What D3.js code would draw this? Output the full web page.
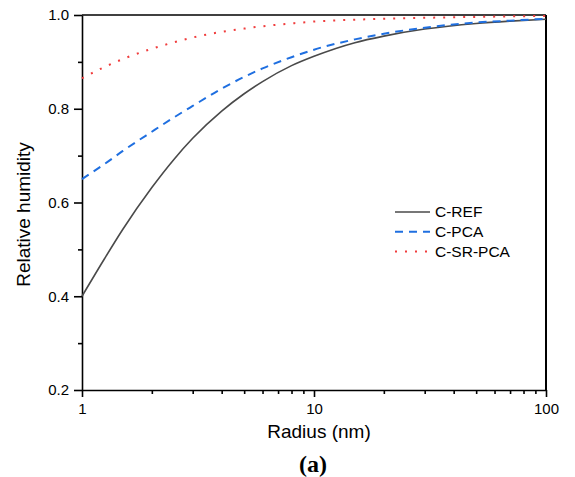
<!DOCTYPE html>
<html>
<head>
<meta charset="utf-8">
<script src="https://cdn.jsdelivr.net/npm/d3@7"></script>
<style>
  body { margin: 0; background: #fff; }
  text { font-family: "Liberation Sans", Arial, sans-serif; fill: #000; }
</style>
</head>
<body>
<div id="chart"></div>
<script>
// values
const radius = [1, 1.25, 1.5, 2, 2.5, 3, 4, 5, 6, 8, 10, 15, 20, 30, 50, 70, 100];
const cRef   = [0.400, 0.480, 0.543, 0.632, 0.693, 0.737, 0.795, 0.832, 0.858, 0.892, 0.912, 0.941, 0.955, 0.970, 0.982, 0.987, 0.991];
const cPca   = [0.650, 0.682, 0.710, 0.751, 0.782, 0.806, 0.843, 0.868, 0.886, 0.910, 0.926, 0.948, 0.960, 0.973, 0.984, 0.988, 0.992];
const cSrPca = [0.865, 0.889, 0.906, 0.928, 0.942, 0.952, 0.964, 0.971, 0.976, 0.982, 0.986, 0.990, 0.992, 0.994, 0.996, 0.997, 0.998];

const seriesNames = ['C-REF', 'C-PCA', 'C-SR-PCA'];
const yMajor = [0.2, 0.4, 0.6, 0.8, 1.0];
const yMinor = [0.3, 0.5, 0.7, 0.9];
const xMajor = [1, 10, 100];
const xMinor = [2, 3, 4, 5, 6, 7, 8, 9, 20, 30, 40, 50, 60, 70, 80, 90];

const margin = { top: 15, right: 29, bottom: 87, left: 82 };
const W = 575, H = 477;
const width = W - margin.left - margin.right;
const height = H - margin.top - margin.bottom;

const svg = d3.select('#chart').append('svg')
  .attr('width', W)
  .attr('height', H);

const g = svg.append('g')
  .attr('transform', `translate(${margin.left},${margin.top})`);

const x = d3.scaleLog().domain([1, 100]).range([0, width]);
const y = d3.scaleLinear().domain([0.2, 1.0]).range([height, 0]);

// frame (top and right)
g.append('line').attr('x1', 0).attr('x2', width).attr('y1', 0).attr('y2', 0)
  .attr('stroke', '#000').attr('stroke-width', 1.6);
g.append('line').attr('x1', width).attr('x2', width).attr('y1', 0).attr('y2', height)
  .attr('stroke', '#000').attr('stroke-width', 2);

// y axis
g.append('g')
  .call(d3.axisLeft(y).tickValues(yMajor).tickFormat(d3.format('.1f'))
    .tickSize(8).tickSizeOuter(0).tickPadding(5));
g.append('g')
  .call(d3.axisLeft(y).tickValues(yMinor).tickFormat('').tickSize(4).tickSizeOuter(0))
  .select('.domain').remove();

// x axis
g.append('g')
  .attr('transform', `translate(0,${height})`)
  .call(d3.axisBottom(x).tickValues(xMajor).tickFormat(d3.format('d'))
    .tickSize(7).tickSizeOuter(0).tickPadding(6));
g.append('g')
  .attr('transform', `translate(0,${height})`)
  .call(d3.axisBottom(x).tickValues(xMinor).tickFormat('').tickSize(4).tickSizeOuter(0))
  .select('.domain').remove();

g.selectAll('.domain, .tick line').attr('stroke', '#000').attr('stroke-width', 1.6);
g.selectAll('.tick text').attr('font-size', '15px')
  .attr('font-family', '"Liberation Sans", Arial, sans-serif');

// axis titles
svg.append('text')
  .attr('x', margin.left + width / 2 + 5)
  .attr('y', 438)
  .attr('text-anchor', 'middle')
  .attr('font-size', '19px')
  .text('Radius (nm)');

svg.append('text')
  .attr('transform', `translate(30,${margin.top + height / 2 + 12}) rotate(-90)`)
  .attr('text-anchor', 'middle')
  .attr('font-size', '19px')
  .text('Relative humidity');

svg.append('text')
  .attr('x', 313)
  .attr('y', 472)
  .attr('text-anchor', 'middle')
  .attr('font-size', '24px')
  .attr('font-weight', 'bold')
  .style('font-family', '"Liberation Serif", "Times New Roman", serif')
  .text('(a)');

// curves
const series = [
  { name: seriesNames[0], values: cRef,   color: '#4a4a4a', width: 1.6, dash: null },
  { name: seriesNames[1], values: cPca,   color: '#1f6fe0', width: 2,   dash: '8,6' },
  { name: seriesNames[2], values: cSrPca, color: '#f03c3c', width: 2,   dash: '2,8' }
];

const line = d3.line()
  .x(d => x(d[0]))
  .y(d => y(d[1]))
  .curve(d3.curveMonotoneX);

const plot = g.append('g');
series.forEach(s => {
  plot.append('path')
    .datum(radius.map((r, i) => [r, s.values[i]]))
    .attr('fill', 'none')
    .attr('stroke', s.color)
    .attr('stroke-width', s.width)
    .attr('stroke-dasharray', s.dash)
    .attr('d', line);
});

// legend
const legend = svg.append('g').attr('transform', 'translate(395,212)');
series.forEach((s, i) => {
  const row = legend.append('g').attr('transform', `translate(0,${i * 19.7})`);
  row.append('line')
    .attr('x1', 0).attr('x2', 35).attr('y1', 0).attr('y2', 0)
    .attr('stroke', s.color)
    .attr('stroke-width', s.width)
    .attr('stroke-dasharray', s.dash);
  row.append('text')
    .attr('x', 40).attr('y', 0).attr('dy', '0.35em')
    .attr('font-size', '15.5px')
    .text(s.name);
});
</script>
</body>
</html>
